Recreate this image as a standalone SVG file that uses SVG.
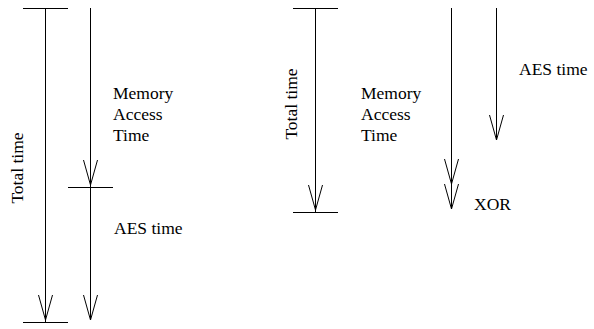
<svg xmlns="http://www.w3.org/2000/svg" width="594" height="329" viewBox="0 0 594 329">
<defs>
<marker id="v" markerUnits="userSpaceOnUse" orient="auto" refX="0" refY="0" markerWidth="30" markerHeight="20" viewBox="-27 -10 30 20" overflow="visible">
<path d="M-25,-7 L0,0 L-25,7" fill="none" stroke="#000" stroke-width="1"/>
</marker>
</defs>
<style>
.ln{stroke:#000;stroke-width:1;fill:none}
.ar{marker-end:url(#v)}
.t{font-family:"Liberation Serif","Times New Roman",Times,"Nimbus Roman","Tinos","DejaVu Serif",serif;font-size:17.5px;fill:#000}
</style>
<rect width="594" height="329" fill="#fff"/>
<g id="connectors">
<line class="ln" x1="23" y1="8.5" x2="68" y2="8.5"/>
<line class="ln ar" x1="45.5" y1="8" x2="45.5" y2="320"/>
<line class="ln" x1="45.5" y1="320" x2="45.5" y2="322"/>
<line class="ln" x1="23" y1="322.5" x2="68" y2="322.5"/>
<line class="ln ar" x1="90.5" y1="8" x2="90.5" y2="185"/>
<line class="ln" x1="90.5" y1="185" x2="90.5" y2="187"/>
<line class="ln" x1="68" y1="187.5" x2="113" y2="187.5"/>
<line class="ln ar" x1="90.5" y1="187" x2="90.5" y2="320"/>
<line class="ln" x1="293" y1="8.5" x2="338" y2="8.5"/>
<line class="ln ar" x1="315.5" y1="8" x2="315.5" y2="210"/>
<line class="ln" x1="315.5" y1="210" x2="315.5" y2="212"/>
<line class="ln" x1="293" y1="212.5" x2="338" y2="212.5"/>
<polyline class="ln" points="451.5,8 451.5,184 451.5,209" style="marker-mid:url(#v);marker-end:url(#v)"/>
<line class="ln ar" x1="496.5" y1="8" x2="496.5" y2="140"/>
</g>
<g id="left-total">
<text class="t" transform="translate(23,168) rotate(-90)" text-anchor="middle">Total time</text>
</g>
<g id="left-memory">
<text class="t" x="113" y="99">Memory</text>
<text class="t" x="113" y="120">Access</text>
<text class="t" x="113" y="141">Time</text>
</g>
<g id="left-aes">
<text class="t" x="114" y="234">AES time</text>
</g>
<g id="right-total">
<text class="t" transform="translate(297,104) rotate(-90)" text-anchor="middle">Total time</text>
</g>
<g id="right-memory">
<text class="t" x="361" y="99">Memory</text>
<text class="t" x="361" y="120">Access</text>
<text class="t" x="361" y="141">Time</text>
</g>
<g id="right-aes">
<text class="t" x="519" y="75">AES time</text>
</g>
<g id="right-xor">
<text class="t" x="474" y="210">XOR</text>
</g>
</svg>
